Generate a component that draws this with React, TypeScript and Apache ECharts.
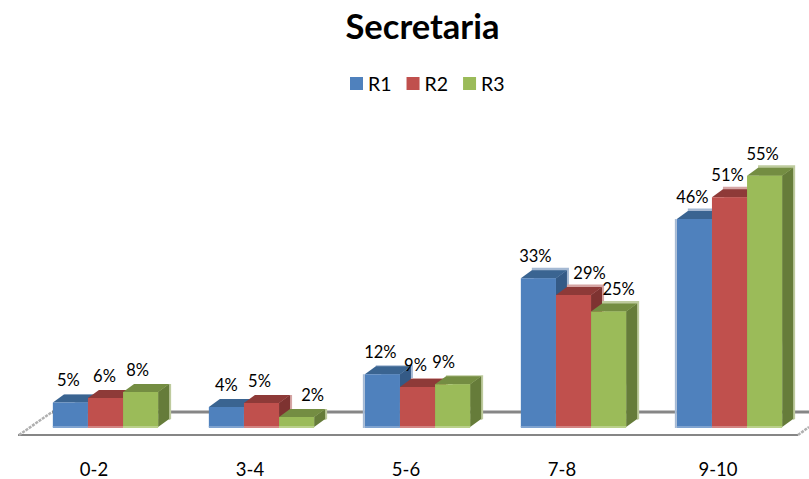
import React, { useEffect, useRef } from "react";
import * as echarts from "echarts";

const categories = ["0-2", "3-4", "5-6", "7-8", "9-10"];
const seriesNames = ["R1", "R2", "R3"];
const r1Values = [5.4, 4.4, 11.6, 32.7, 45.7];
const r2Values = [6.4, 5.3, 8.8, 29, 50.5];
const r3Values = [7.7, 2.2, 9.4, 25.4, 55.2];
const frontColors = ["#4F81BD", "#C0504D", "#9BBB59"];
const topColors = ["#3A6491", "#8E3A38", "#748D42"];
const sideColors = ["#345A86", "#7E3331", "#667C3A"];
const fringeColors = ["#A5B9D3", "#D5A5A4", "#BECB9E"];
const baseColors = ["#7FA3D0", "#D38583", "#BAD08A"];
const labelShiftX = [
  [-2, -1, -3],
  [0, -2, 16],
  [-2, -2, -9],
  [-3, 16, 10],
  [-2, -2, -2],
];
const topFringeByCategory = [0, 0, 1, 2.5, 2.5];
const leftFringeCategories = [2, 4];
const FONT = "Lato, Carlito, 'Open Sans', sans-serif";

function makeRenderItem(si: number) {
  return (params: any, api: any) => {
    const i = api.value(0);
    const v = api.value(1);
    const [cx, y0] = api.coord([i, 0]);
    const [, y1] = api.coord([i, v]);
    const band = api.size([1, 0])[0];
    const w = band * 0.225;
    const depthX = 11;
    const depthY = -8;
    const x0 = cx + 11.5 - w * 1.5 + si * w;
    const x1 = x0 + w;
    const topFringe = topFringeByCategory[i];
    const poly = (points: number[][], fill: string) => ({
      type: "polygon",
      shape: { points },
      style: { fill },
    });
    const children: any[] = [
      poly(
        [
          [x0 + depthX, y1 + depthY - topFringe],
          [x1 + depthX + 2, y1 + depthY - topFringe],
          [x1 + depthX + 2, y0 + depthY],
          [x1 + depthX, y0 + depthY + 1],
          [x0 + depthX, y1 + depthY],
        ],
        fringeColors[si]
      ),
      poly(
        [
          [x1, y1],
          [x1 + depthX, y1 + depthY],
          [x1 + depthX, y0 + depthY],
          [x1, y0],
        ],
        sideColors[si]
      ),
      poly(
        [
          [x0, y1],
          [x1, y1],
          [x1 + depthX, y1 + depthY],
          [x0 + depthX, y1 + depthY],
        ],
        topColors[si]
      ),
      {
        type: "rect",
        shape: { x: x0, y: y1, width: w, height: y0 - y1 },
        style: { fill: frontColors[si] },
      },
      {
        type: "rect",
        shape: { x: x0, y: y0 - 1, width: w, height: 2 },
        style: { fill: baseColors[si] },
      },
      {
        type: "text",
        z2: 100,
        x: x0 + w / 2 + labelShiftX[i][si],
        y: y1 - 22,
        style: {
          text: Math.round(v) + "%",
          fill: "#000",
          font: `16.5px ${FONT}`,
          align: "center",
          verticalAlign: "middle",
        },
      },
    ];
    if (si === 0 && leftFringeCategories.includes(i)) {
      children.push({
        type: "rect",
        shape: { x: x0 - 2, y: y1, width: 2, height: y0 - y1 + 1 },
        style: { fill: fringeColors[si] },
      });
    }
    return { type: "group", children };
  };
}

const seriesValues = [r1Values, r2Values, r3Values];

export default function App() {
  const ref = useRef<HTMLDivElement>(null);
  useEffect(() => {
    const chart = echarts.init(ref.current!, undefined, { renderer: "svg" });
    const gray = "#868686";
    const slope = "#B0B0B0";
    chart.setOption({
      animation: false,
      backgroundColor: "#fff",
      title: {
        text: "Secretaria",
        left: 417.5,
        top: 3,
        textAlign: "center",
        textStyle: { fontFamily: FONT, fontSize: 34.5, fontWeight: "bold", color: "#000" },
      },
      legend: {
        data: seriesNames,
        left: 345,
        top: 68.5,
        icon: "rect",
        itemWidth: 13,
        itemHeight: 13,
        itemGap: 15,
        textStyle: { fontFamily: FONT, fontSize: 19.5, color: "#000" },
      },
      grid: { left: 16, right: 13, top: 154, bottom: 52 },
      xAxis: {
        type: "category",
        data: categories,
        axisLine: { show: false },
        axisTick: { show: false },
        axisLabel: { fontFamily: FONT, fontSize: 18.5, color: "#000", margin: 32 },
      },
      yAxis: { type: "value", min: 0, max: 60, show: false },
      graphic: [
        { type: "line", z: 0, shape: { x1: 52, y1: 412, x2: 809, y2: 412 }, style: { stroke: gray, lineWidth: 3 } },
        { type: "line", z: 0, shape: { x1: 18, y1: 435, x2: 798, y2: 435 }, style: { stroke: gray, lineWidth: 2 } },
        { type: "line", z: 0, shape: { x1: 19, y1: 435, x2: 52, y2: 412 }, style: { stroke: slope, lineWidth: 2.5, lineDash: [3, 1] } },
        { type: "line", z: 0, shape: { x1: 798, y1: 435, x2: 809, y2: 427 }, style: { stroke: slope, lineWidth: 2.5, lineDash: [3, 1] } },
      ],
      series: seriesNames.map((name, si) => ({
        type: "custom",
        name,
        clip: false,
        itemStyle: { color: frontColors[si] },
        encode: { x: 0, y: 1 },
        data: seriesValues[si].map((v, i) => [i, v]),
        renderItem: makeRenderItem(si),
      })),
    });
    return () => chart.dispose();
  }, []);
  return <div ref={ref} style={{ position: "absolute", left: 0, top: 0, width: 809, height: 479 }} />;
}
